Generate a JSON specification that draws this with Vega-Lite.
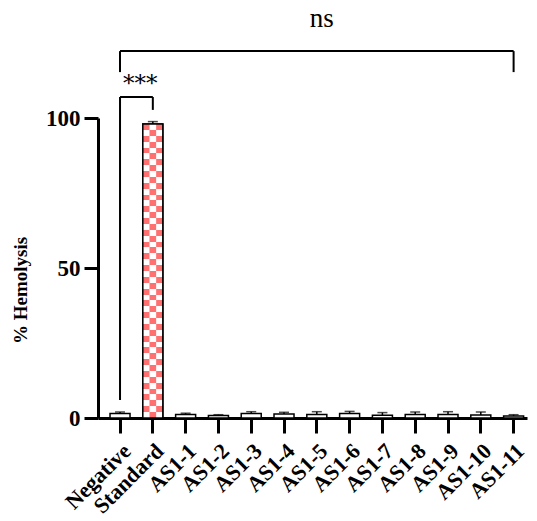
{
  "$schema": "https://vega.github.io/schema/vega-lite/v6.json",
  "width": 429,
  "height": 300,
  "autosize": {"type": "none"},
  "padding": {"left": 98, "top": 118, "right": 10, "bottom": 103},
  "background": "white",
  "config": {"view": {"stroke": null}, "text": {"fill": "black"}},
  "datasets": {
    "bars": [
      {"group": "Negative", "mean": 1.5, "hi": 2.0},
      {"group": "Standard", "mean": 98.0, "hi": 98.8},
      {"group": "AS1-1", "mean": 1.2, "hi": 1.6},
      {"group": "AS1-2", "mean": 0.8, "hi": 1.1},
      {"group": "AS1-3", "mean": 1.5, "hi": 2.1},
      {"group": "AS1-4", "mean": 1.3, "hi": 1.9},
      {"group": "AS1-5", "mean": 1.2, "hi": 2.1},
      {"group": "AS1-6", "mean": 1.5, "hi": 2.2},
      {"group": "AS1-7", "mean": 0.9, "hi": 1.8},
      {"group": "AS1-8", "mean": 1.2, "hi": 2.0},
      {"group": "AS1-9", "mean": 1.2, "hi": 2.1},
      {"group": "AS1-10", "mean": 1.0, "hi": 2.0},
      {"group": "AS1-11", "mean": 0.7, "hi": 1.1}
    ],
    "hlines": [
      {"a": "Negative", "b": "AS1-11", "y": 122.3},
      {"a": "Negative", "b": "Standard", "y": 107}
    ],
    "vlines": [
      {"a": "Negative", "y": 122.3, "y2": 115.3},
      {"a": "AS1-11", "y": 122.3, "y2": 115.3},
      {"a": "Negative", "y": 107, "y2": 6},
      {"a": "Standard", "y": 107, "y2": 102.7}
    ],
    "labels": [
      {"a": "AS1-5", "y": 133, "text": "ns", "kind": "ns"},
      {"a": "Negative", "y": 111.5, "text": "***", "kind": "star"}
    ]
  },
  "encoding": {
    "x": {
      "field": "group",
      "type": "nominal",
      "sort": null,
      "scale": {
        "domain": ["Negative", "Standard", "AS1-1", "AS1-2", "AS1-3", "AS1-4", "AS1-5", "AS1-6", "AS1-7", "AS1-8", "AS1-9", "AS1-10", "AS1-11"],
        "paddingInner": 0.39,
        "paddingOuter": 0.235,
        "align": 0.78
      },
      "axis": {
        "title": null,
        "labelAngle": -45,
        "labelFont": "Liberation Serif",
        "labelFontWeight": "bold",
        "labelFontSize": 22,
        "labelColor": "#000000",
        "labelPadding": 7,
        "tickSize": 15,
        "tickWidth": 3,
        "tickColor": "#000000",
        "domainWidth": 3,
        "domainColor": "#000000",
        "grid": false
      }
    }
  },
  "layer": [
    {
      "data": {"name": "bars"},
      "mark": {"type": "bar", "fill": "white", "stroke": "black", "strokeWidth": 1.5},
      "encoding": {
        "y": {
          "field": "mean",
          "type": "quantitative",
          "scale": {"domain": [0, 100], "nice": false},
          "axis": {
            "values": [0, 50, 100],
            "title": "% Hemolysis",
            "titleFont": "Liberation Serif",
            "titleFontWeight": "bold",
            "titleFontSize": 19,
            "titleColor": "#000000",
            "titleX": -78,
            "titleY": 172,
            "titleAngle": -90,
            "titleAlign": "center",
            "titleBaseline": "middle",
            "labelFont": "Liberation Serif",
            "labelFontWeight": "bold",
            "labelFontSize": 23,
            "labelColor": "#000000",
            "labelPadding": 4,
            "tickSize": 14,
            "tickWidth": 3,
            "tickColor": "#000000",
            "domainWidth": 3,
            "domainColor": "#000000",
            "grid": false
          }
        }
      }
    },
    {
      "data": {"name": "bars"},
      "transform": [{"filter": "datum.group === 'Standard'"}],
      "mark": {
        "type": "bar",
        "fill": {
          "gradient": "linear", "x1": 0, "y1": 0, "x2": 0, "y2": 1,
          "stops": [
            {"offset": 0, "color": "#ff7070"}, {"offset": 0.02, "color": "#ff7070"},
            {"offset": 0.02, "color": "#ffffff"}, {"offset": 0.04, "color": "#ffffff"},
            {"offset": 0.04, "color": "#ff7070"}, {"offset": 0.06, "color": "#ff7070"},
            {"offset": 0.06, "color": "#ffffff"}, {"offset": 0.08, "color": "#ffffff"},
            {"offset": 0.08, "color": "#ff7070"}, {"offset": 0.1, "color": "#ff7070"},
            {"offset": 0.1, "color": "#ffffff"}, {"offset": 0.12, "color": "#ffffff"},
            {"offset": 0.12, "color": "#ff7070"}, {"offset": 0.14, "color": "#ff7070"},
            {"offset": 0.14, "color": "#ffffff"}, {"offset": 0.16, "color": "#ffffff"},
            {"offset": 0.16, "color": "#ff7070"}, {"offset": 0.18, "color": "#ff7070"},
            {"offset": 0.18, "color": "#ffffff"}, {"offset": 0.2, "color": "#ffffff"},
            {"offset": 0.2, "color": "#ff7070"}, {"offset": 0.22, "color": "#ff7070"},
            {"offset": 0.22, "color": "#ffffff"}, {"offset": 0.24, "color": "#ffffff"},
            {"offset": 0.24, "color": "#ff7070"}, {"offset": 0.26, "color": "#ff7070"},
            {"offset": 0.26, "color": "#ffffff"}, {"offset": 0.28, "color": "#ffffff"},
            {"offset": 0.28, "color": "#ff7070"}, {"offset": 0.3, "color": "#ff7070"},
            {"offset": 0.3, "color": "#ffffff"}, {"offset": 0.32, "color": "#ffffff"},
            {"offset": 0.32, "color": "#ff7070"}, {"offset": 0.34, "color": "#ff7070"},
            {"offset": 0.34, "color": "#ffffff"}, {"offset": 0.36, "color": "#ffffff"},
            {"offset": 0.36, "color": "#ff7070"}, {"offset": 0.38, "color": "#ff7070"},
            {"offset": 0.38, "color": "#ffffff"}, {"offset": 0.4, "color": "#ffffff"},
            {"offset": 0.4, "color": "#ff7070"}, {"offset": 0.42, "color": "#ff7070"},
            {"offset": 0.42, "color": "#ffffff"}, {"offset": 0.44, "color": "#ffffff"},
            {"offset": 0.44, "color": "#ff7070"}, {"offset": 0.46, "color": "#ff7070"},
            {"offset": 0.46, "color": "#ffffff"}, {"offset": 0.48, "color": "#ffffff"},
            {"offset": 0.48, "color": "#ff7070"}, {"offset": 0.5, "color": "#ff7070"},
            {"offset": 0.5, "color": "#ffffff"}, {"offset": 0.52, "color": "#ffffff"},
            {"offset": 0.52, "color": "#ff7070"}, {"offset": 0.54, "color": "#ff7070"},
            {"offset": 0.54, "color": "#ffffff"}, {"offset": 0.56, "color": "#ffffff"},
            {"offset": 0.56, "color": "#ff7070"}, {"offset": 0.58, "color": "#ff7070"},
            {"offset": 0.58, "color": "#ffffff"}, {"offset": 0.6, "color": "#ffffff"},
            {"offset": 0.6, "color": "#ff7070"}, {"offset": 0.62, "color": "#ff7070"},
            {"offset": 0.62, "color": "#ffffff"}, {"offset": 0.64, "color": "#ffffff"},
            {"offset": 0.64, "color": "#ff7070"}, {"offset": 0.66, "color": "#ff7070"},
            {"offset": 0.66, "color": "#ffffff"}, {"offset": 0.68, "color": "#ffffff"},
            {"offset": 0.68, "color": "#ff7070"}, {"offset": 0.7, "color": "#ff7070"},
            {"offset": 0.7, "color": "#ffffff"}, {"offset": 0.72, "color": "#ffffff"},
            {"offset": 0.72, "color": "#ff7070"}, {"offset": 0.74, "color": "#ff7070"},
            {"offset": 0.74, "color": "#ffffff"}, {"offset": 0.76, "color": "#ffffff"},
            {"offset": 0.76, "color": "#ff7070"}, {"offset": 0.78, "color": "#ff7070"},
            {"offset": 0.78, "color": "#ffffff"}, {"offset": 0.8, "color": "#ffffff"},
            {"offset": 0.8, "color": "#ff7070"}, {"offset": 0.82, "color": "#ff7070"},
            {"offset": 0.82, "color": "#ffffff"}, {"offset": 0.84, "color": "#ffffff"},
            {"offset": 0.84, "color": "#ff7070"}, {"offset": 0.86, "color": "#ff7070"},
            {"offset": 0.86, "color": "#ffffff"}, {"offset": 0.88, "color": "#ffffff"},
            {"offset": 0.88, "color": "#ff7070"}, {"offset": 0.9, "color": "#ff7070"},
            {"offset": 0.9, "color": "#ffffff"}, {"offset": 0.92, "color": "#ffffff"},
            {"offset": 0.92, "color": "#ff7070"}, {"offset": 0.94, "color": "#ff7070"},
            {"offset": 0.94, "color": "#ffffff"}, {"offset": 0.96, "color": "#ffffff"},
            {"offset": 0.96, "color": "#ff7070"}, {"offset": 0.98, "color": "#ff7070"},
            {"offset": 0.98, "color": "#ffffff"}, {"offset": 1, "color": "#ffffff"}
          ]
        }
      },
      "encoding": {"y": {"field": "mean", "type": "quantitative"}}
    },
    {
      "data": {"name": "bars"},
      "transform": [{"filter": "datum.group === 'Standard'"}],
      "mark": {
        "type": "bar",
        "width": {"band": 0.333},
        "fill": {
          "gradient": "linear", "x1": 0, "y1": 0, "x2": 0, "y2": 1,
          "stops": [
            {"offset": 0, "color": "#ffffff"}, {"offset": 0.02, "color": "#ffffff"},
            {"offset": 0.02, "color": "#ff7070"}, {"offset": 0.04, "color": "#ff7070"},
            {"offset": 0.04, "color": "#ffffff"}, {"offset": 0.06, "color": "#ffffff"},
            {"offset": 0.06, "color": "#ff7070"}, {"offset": 0.08, "color": "#ff7070"},
            {"offset": 0.08, "color": "#ffffff"}, {"offset": 0.1, "color": "#ffffff"},
            {"offset": 0.1, "color": "#ff7070"}, {"offset": 0.12, "color": "#ff7070"},
            {"offset": 0.12, "color": "#ffffff"}, {"offset": 0.14, "color": "#ffffff"},
            {"offset": 0.14, "color": "#ff7070"}, {"offset": 0.16, "color": "#ff7070"},
            {"offset": 0.16, "color": "#ffffff"}, {"offset": 0.18, "color": "#ffffff"},
            {"offset": 0.18, "color": "#ff7070"}, {"offset": 0.2, "color": "#ff7070"},
            {"offset": 0.2, "color": "#ffffff"}, {"offset": 0.22, "color": "#ffffff"},
            {"offset": 0.22, "color": "#ff7070"}, {"offset": 0.24, "color": "#ff7070"},
            {"offset": 0.24, "color": "#ffffff"}, {"offset": 0.26, "color": "#ffffff"},
            {"offset": 0.26, "color": "#ff7070"}, {"offset": 0.28, "color": "#ff7070"},
            {"offset": 0.28, "color": "#ffffff"}, {"offset": 0.3, "color": "#ffffff"},
            {"offset": 0.3, "color": "#ff7070"}, {"offset": 0.32, "color": "#ff7070"},
            {"offset": 0.32, "color": "#ffffff"}, {"offset": 0.34, "color": "#ffffff"},
            {"offset": 0.34, "color": "#ff7070"}, {"offset": 0.36, "color": "#ff7070"},
            {"offset": 0.36, "color": "#ffffff"}, {"offset": 0.38, "color": "#ffffff"},
            {"offset": 0.38, "color": "#ff7070"}, {"offset": 0.4, "color": "#ff7070"},
            {"offset": 0.4, "color": "#ffffff"}, {"offset": 0.42, "color": "#ffffff"},
            {"offset": 0.42, "color": "#ff7070"}, {"offset": 0.44, "color": "#ff7070"},
            {"offset": 0.44, "color": "#ffffff"}, {"offset": 0.46, "color": "#ffffff"},
            {"offset": 0.46, "color": "#ff7070"}, {"offset": 0.48, "color": "#ff7070"},
            {"offset": 0.48, "color": "#ffffff"}, {"offset": 0.5, "color": "#ffffff"},
            {"offset": 0.5, "color": "#ff7070"}, {"offset": 0.52, "color": "#ff7070"},
            {"offset": 0.52, "color": "#ffffff"}, {"offset": 0.54, "color": "#ffffff"},
            {"offset": 0.54, "color": "#ff7070"}, {"offset": 0.56, "color": "#ff7070"},
            {"offset": 0.56, "color": "#ffffff"}, {"offset": 0.58, "color": "#ffffff"},
            {"offset": 0.58, "color": "#ff7070"}, {"offset": 0.6, "color": "#ff7070"},
            {"offset": 0.6, "color": "#ffffff"}, {"offset": 0.62, "color": "#ffffff"},
            {"offset": 0.62, "color": "#ff7070"}, {"offset": 0.64, "color": "#ff7070"},
            {"offset": 0.64, "color": "#ffffff"}, {"offset": 0.66, "color": "#ffffff"},
            {"offset": 0.66, "color": "#ff7070"}, {"offset": 0.68, "color": "#ff7070"},
            {"offset": 0.68, "color": "#ffffff"}, {"offset": 0.7, "color": "#ffffff"},
            {"offset": 0.7, "color": "#ff7070"}, {"offset": 0.72, "color": "#ff7070"},
            {"offset": 0.72, "color": "#ffffff"}, {"offset": 0.74, "color": "#ffffff"},
            {"offset": 0.74, "color": "#ff7070"}, {"offset": 0.76, "color": "#ff7070"},
            {"offset": 0.76, "color": "#ffffff"}, {"offset": 0.78, "color": "#ffffff"},
            {"offset": 0.78, "color": "#ff7070"}, {"offset": 0.8, "color": "#ff7070"},
            {"offset": 0.8, "color": "#ffffff"}, {"offset": 0.82, "color": "#ffffff"},
            {"offset": 0.82, "color": "#ff7070"}, {"offset": 0.84, "color": "#ff7070"},
            {"offset": 0.84, "color": "#ffffff"}, {"offset": 0.86, "color": "#ffffff"},
            {"offset": 0.86, "color": "#ff7070"}, {"offset": 0.88, "color": "#ff7070"},
            {"offset": 0.88, "color": "#ffffff"}, {"offset": 0.9, "color": "#ffffff"},
            {"offset": 0.9, "color": "#ff7070"}, {"offset": 0.92, "color": "#ff7070"},
            {"offset": 0.92, "color": "#ffffff"}, {"offset": 0.94, "color": "#ffffff"},
            {"offset": 0.94, "color": "#ff7070"}, {"offset": 0.96, "color": "#ff7070"},
            {"offset": 0.96, "color": "#ffffff"}, {"offset": 0.98, "color": "#ffffff"},
            {"offset": 0.98, "color": "#ff7070"}, {"offset": 1, "color": "#ff7070"}
          ]
        }
      },
      "encoding": {"y": {"field": "mean", "type": "quantitative"}}
    },
    {
      "data": {"name": "bars"},
      "transform": [{"filter": "datum.group === 'Standard'"}],
      "mark": {"type": "bar", "fill": null, "stroke": "black", "strokeWidth": 1.5},
      "encoding": {"y": {"field": "mean", "type": "quantitative"}}
    },
    {
      "data": {"name": "bars"},
      "mark": {"type": "rule", "color": "black", "strokeWidth": 1.5},
      "encoding": {
        "y": {"field": "mean", "type": "quantitative"},
        "y2": {"field": "hi"}
      }
    },
    {
      "data": {"name": "bars"},
      "mark": {"type": "tick", "color": "black", "size": 10, "thickness": 1.5},
      "encoding": {"y": {"field": "hi", "type": "quantitative"}}
    },
    {
      "data": {"name": "hlines"},
      "mark": {"type": "rule", "color": "black", "strokeWidth": 2, "clip": false},
      "encoding": {
        "x": {"field": "a", "type": "nominal"},
        "x2": {"field": "b"},
        "y": {"field": "y", "type": "quantitative"}
      }
    },
    {
      "data": {"name": "vlines"},
      "mark": {"type": "rule", "color": "black", "strokeWidth": 2, "clip": false},
      "encoding": {
        "x": {"field": "a", "type": "nominal"},
        "y": {"field": "y", "type": "quantitative"},
        "y2": {"field": "y2"}
      }
    },
    {
      "data": {"name": "labels"},
      "transform": [{"filter": "datum.kind === 'ns'"}],
      "mark": {"type": "text", "font": "Liberation Serif", "fontSize": 27, "fill": "#000000", "dx": 5},
      "encoding": {
        "x": {"field": "a", "type": "nominal"},
        "y": {"field": "y", "type": "quantitative"},
        "text": {"field": "text"}
      }
    },
    {
      "data": {"name": "labels"},
      "transform": [{"filter": "datum.kind === 'star'"}],
      "mark": {"type": "text", "font": "DejaVu Serif", "fontSize": 23, "fill": "#000000", "align": "left", "dx": 3},
      "encoding": {
        "x": {"field": "a", "type": "nominal"},
        "y": {"field": "y", "type": "quantitative"},
        "text": {"field": "text"}
      }
    }
  ]
}
